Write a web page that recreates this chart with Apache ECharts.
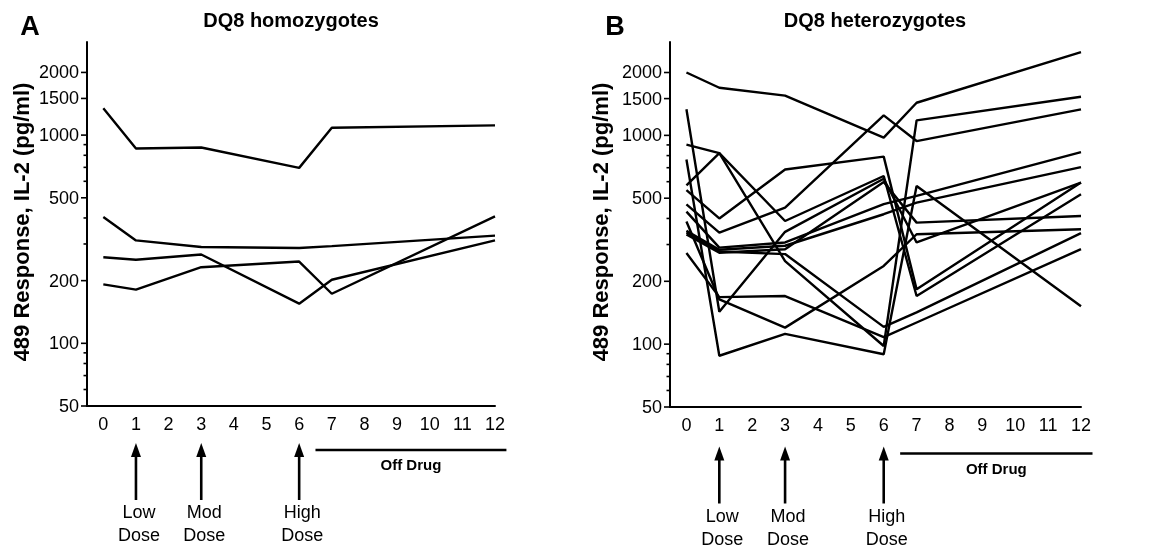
<!DOCTYPE html>
<html><head><meta charset="utf-8">
<script src="https://cdn.jsdelivr.net/npm/echarts@6/dist/echarts.min.js"></script>
<style>html,body{margin:0;padding:0;background:#fff}#c{width:1151px;height:550px}</style>
</head><body><div id="c"></div>
<script>
// ---------- data ----------
const weeks = [0, 1, 3, 6, 7, 12];
const xTickLabels = [0, 1, 2, 3, 4, 5, 6, 7, 8, 9, 10, 11, 12];
const yTickValues = [50, 100, 200, 500, 1000, 1500, 2000];
const yMinorTicks = [60, 70, 80, 90, 300, 400, 600, 700, 800, 900];

const homo1 = [1345, 863, 872, 696, 1084, 1113];
const homo2 = [404, 312, 290, 287, 293, 329];
const homo3 = [259, 252, 267, 155, 202, 312];
const homo4 = [192, 181, 232, 247, 173, 407];
const homozygotes = [homo1, homo2, homo3, homo4];

const het1 = [2000, 1690, 1550, 975, 1433, 2504];
const het2 = [467, 342, 451, 1246, 939, 1332];
const het3 = [1334, 143, 345, 620, 307, 594];
const het4 = [766, 88, 112, 89.5, 572, 152];
const het5 = [547, 400, 686, 791, 183, 594];
const het6 = [903, 822, 389, 639, 170, 522];
const het7 = [576, 822, 250, 98, 1180, 1531];
const het8 = [431, 290, 307, 468, 513, 832];
const het9 = [349, 283, 296, 419, 476, 705];
const het10 = [387, 164, 120, 237, 336, 355];
const het11 = [343, 278, 270, 121, 142, 340];
const het12 = [273, 168, 170, 108, 127, 285];
const het13 = [335, 274, 285, 598, 382, 411];
const heterozygotes = [het1, het2, het3, het4, het5, het6, het7, het8, het9, het10, het11, het12, het13];

const doseWeeks = [1, 3, 6];
const doseLabels = ['Low\nDose', 'Mod\nDose', 'High\nDose'];
const offDrugSpan = [6.5, 12.35];
const offDrugLabel = 'Off Drug';
const panelTitles = ['DQ8 homozygotes', 'DQ8 heterozygotes'];
const panelLetters = ['A', 'B'];
const yAxisTitle = '489 Response, IL-2 (pg/ml)';

// ---------- layout / style ----------
const FONT = '"Liberation Sans", Arial, Helvetica, sans-serif';
const yMin = 50, yMax = 2800, xMin = -0.5, xMax = 12;
const layout = [
  { grid: { left: 87, top: 42, width: 408, height: 364 }, titleX: 291, letterX: 30, nameX: 23, shift: 0 },
  { grid: { left: 670, top: 42, width: 411, height: 365 }, titleX: 875, letterX: 615, nameX: 602, shift: 2.5 }
];
const datasets = [homozygotes, heterozygotes];

function tickRender(len, withLabel) {
  return function (params, api) {
    const v = api.value(1);
    const p = api.coord([xMin, v]);
    const children = [{ type: 'line', shape: { x1: p[0] - len, y1: p[1], x2: p[0], y2: p[1] },
      style: { stroke: '#000', lineWidth: 1.6 } }];
    if (withLabel) children.push({ type: 'text', x: p[0] - len - 2, y: p[1] + 1,
      style: { text: String(v), align: 'right', verticalAlign: 'middle', font: '18px ' + FONT, fill: '#000' } });
    return { type: 'group', children };
  };
}

function doseRender(shift) {
  return function (params, api) {
    const p = api.coord([api.value(0), yMin]);
    const x = p[0], y0 = p[1] + shift;
    return { type: 'group', children: [
      { type: 'line', shape: { x1: x, y1: y0 + 50, x2: x, y2: y0 + 94 }, style: { stroke: '#000', lineWidth: 2.6 } },
      { type: 'polygon', shape: { points: [[x, y0 + 37], [x - 5, y0 + 51], [x + 5, y0 + 51]] }, style: { fill: '#000' } },
      { type: 'text', x: x + 3, y: y0 + 119,
        style: { text: doseLabels[params.dataIndex], align: 'center', verticalAlign: 'middle',
          font: '18px ' + FONT, lineHeight: 23, fill: '#000' } }
    ] };
  };
}

function offDrugRender(shift) {
  return function (params, api) {
    const a = api.coord([offDrugSpan[0], yMin]);
    const b = api.coord([offDrugSpan[1], yMin]);
    const y0 = a[1] + shift;
    return { type: 'group', children: [
      { type: 'line', shape: { x1: a[0], y1: y0 + 44, x2: b[0], y2: y0 + 44 }, style: { stroke: '#000', lineWidth: 2.6 } },
      { type: 'text', x: (a[0] + b[0]) / 2, y: y0 + 60,
        style: { text: offDrugLabel, align: 'center', verticalAlign: 'middle', font: 'bold 15px ' + FONT, fill: '#000' } }
    ] };
  };
}

const grids = [], xAxes = [], yAxes = [], series = [], graphics = [];
layout.forEach((L, i) => {
  grids.push(L.grid);
  xAxes.push({
    type: 'value', gridIndex: i, min: xMin, max: xMax,
    axisLine: { onZero: false, lineStyle: { color: '#000', width: 2 } },
    axisTick: { show: false }, splitLine: { show: false },
    axisLabel: { customValues: xTickLabels, color: '#000', fontSize: 18, fontFamily: FONT, margin: 10 }
  });
  yAxes.push({
    type: 'log', logBase: 10, gridIndex: i, min: yMin, max: yMax,
    axisLine: { show: true, onZero: false, lineStyle: { color: '#000', width: 2 } },
    axisTick: { show: false }, axisLabel: { show: false }, splitLine: { show: false }, minorSplitLine: { show: false }
  });
  datasets[i].forEach((vals, k) => {
    series.push({
      type: 'line', xAxisIndex: i, yAxisIndex: i, silent: true, symbol: 'none', animation: false,
      data: weeks.map((w, j) => [w, vals[j]]),
      lineStyle: { color: '#000', width: 2.4 }, z: 3
    });
  });
  series.push({ type: 'custom', xAxisIndex: i, yAxisIndex: i, clip: false, silent: true, animation: false,
    data: yTickValues.map(v => [xMin, v]), renderItem: tickRender(6, true) });
  series.push({ type: 'custom', xAxisIndex: i, yAxisIndex: i, clip: false, silent: true, animation: false,
    data: yMinorTicks.map(v => [xMin, v]), renderItem: tickRender(3.5, false) });
  series.push({ type: 'custom', xAxisIndex: i, yAxisIndex: i, clip: false, silent: true, animation: false,
    data: doseWeeks.map(w => [w, yMin]), renderItem: doseRender(L.shift) });
  series.push({ type: 'custom', xAxisIndex: i, yAxisIndex: i, clip: false, silent: true, animation: false,
    data: [[offDrugSpan[0], yMin]], renderItem: offDrugRender(L.shift) });

  graphics.push({ type: 'text', x: L.titleX, y: 21,
    style: { text: panelTitles[i], align: 'center', verticalAlign: 'middle', font: 'bold 20px ' + FONT, fill: '#000' } });
  graphics.push({ type: 'text', x: L.letterX, y: 28,
    style: { text: panelLetters[i], align: 'center', verticalAlign: 'middle', font: 'bold 27px ' + FONT, fill: '#000' } });
  graphics.push({ type: 'text', x: L.nameX, y: 222, rotation: Math.PI / 2,
    style: { text: yAxisTitle, align: 'center', verticalAlign: 'middle', font: 'bold 22px ' + FONT, fill: '#000' } });
});

const chart = echarts.init(document.getElementById('c'), null, { renderer: 'canvas' });
chart.setOption({
  animation: false,
  backgroundColor: '#fff',
  grid: grids, xAxis: xAxes, yAxis: yAxes, series: series, graphic: graphics
});
</script></body></html>
